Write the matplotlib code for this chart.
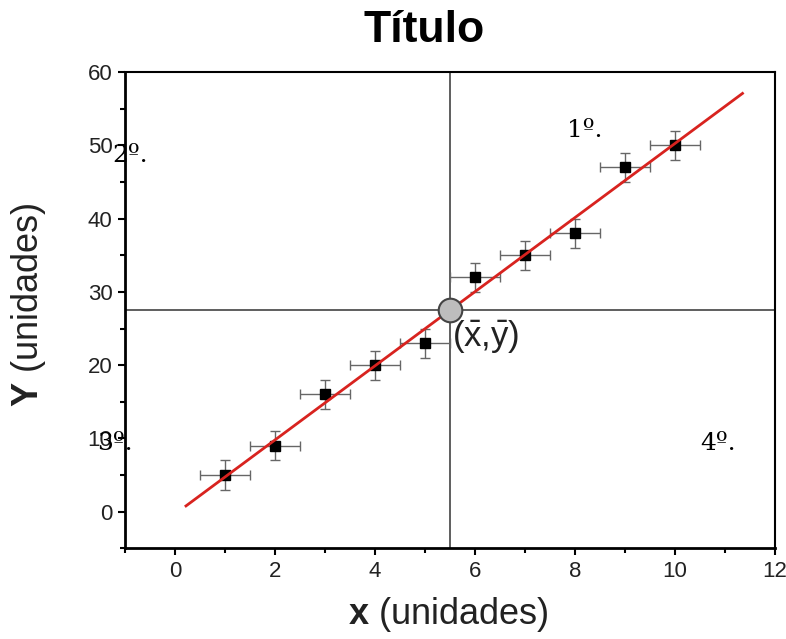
import matplotlib
matplotlib.use("Agg")
import matplotlib.pyplot as plt
import numpy as np
from matplotlib.ticker import MultipleLocator

# data
x_vals = [1, 2, 3, 4, 5, 6, 7, 8, 9, 10]
y_vals = [5, 9, 16, 20, 23, 32, 35, 38, 47, 50]
x_err = [0.5] * 10
y_err = [2] * 10
fit_range = [0.22, 11.35]
quadrant_labels = ["1º.", "2º.", "3º.", "4º."]
quadrant_pos = [(7.85, 52.0), (-1.25, 48.6), (-1.55, 9.3), (10.5, 9.3)]

plt.rcParams["font.family"] = ["Liberation Sans", "DejaVu Sans"]
plt.rcParams["mathtext.fontset"] = "custom"
plt.rcParams["mathtext.rm"] = "Liberation Sans"
plt.rcParams["mathtext.bf"] = "Liberation Sans:bold"

fig = plt.figure(figsize=(7.86, 6.39), dpi=100)
ax = fig.add_axes([0.159, 0.142, 0.827, 0.745])

x = np.array(x_vals, dtype=float)
y = np.array(y_vals, dtype=float)
xm, ym = x.mean(), y.mean()
slope, icpt = np.polyfit(x, y, 1)

# crosshair through the centroid
ax.axvline(xm, color="#333333", lw=1.1, zorder=1)
ax.axhline(ym, color="#333333", lw=1.1, zorder=1)

ax.errorbar(x, y, xerr=x_err, yerr=y_err, fmt="s", color="black",
            markersize=6.5, ecolor="#666666", elinewidth=1.0, capsize=3.5,
            capthick=1.0, zorder=3)

xf = np.array(fit_range)
ax.plot(xf, slope * xf + icpt, color="#d8231f", lw=2.0, zorder=4)

ax.plot(xm, ym, "o", markersize=17, markerfacecolor="#bdbdbd",
        markeredgecolor="#444444", markeredgewidth=1.5, zorder=5)
ax.text(xm + 0.05, ym - 1.0, r"($\bar{\mathrm{x}}$,$\bar{\mathrm{y}}$)",
        fontsize=25, va="top", ha="left", color="#222222", zorder=6)

for lab, (qx, qy) in zip(quadrant_labels, quadrant_pos):
    ax.text(qx, qy, lab, fontsize=18, family="DejaVu Serif",
            ha="left", va="center", clip_on=False)

ax.set_xlim(-1, 12)
ax.set_ylim(-5, 60)
ax.xaxis.set_major_locator(MultipleLocator(2))
ax.xaxis.set_minor_locator(MultipleLocator(1))
ax.yaxis.set_major_locator(MultipleLocator(10))
ax.yaxis.set_minor_locator(MultipleLocator(5))
ax.tick_params(which="both", direction="out", width=1.5, labelsize=16,
               colors="black", labelcolor="#222222")
ax.tick_params(which="major", length=5, pad=4)
ax.tick_params(which="minor", length=3.5)
for side in ["left", "bottom"]:
    ax.spines[side].set_linewidth(2.0)
for side in ["top", "right"]:
    ax.spines[side].set_linewidth(1.5)

fig.text(0.54, 0.934, "Título", fontsize=32, fontweight="bold",
         ha="center", va="baseline")
fig.text(0.57, 0.024, r"$\mathbf{x}$ (unidades)", fontsize=26,
         ha="center", va="baseline", color="#222222")
fig.text(0.036, 0.523, r"$\mathbf{Y}$ (unidades)", fontsize=26,
         ha="center", va="center", rotation=90, color="#222222")

fig.savefig("out.png", dpi=100)
